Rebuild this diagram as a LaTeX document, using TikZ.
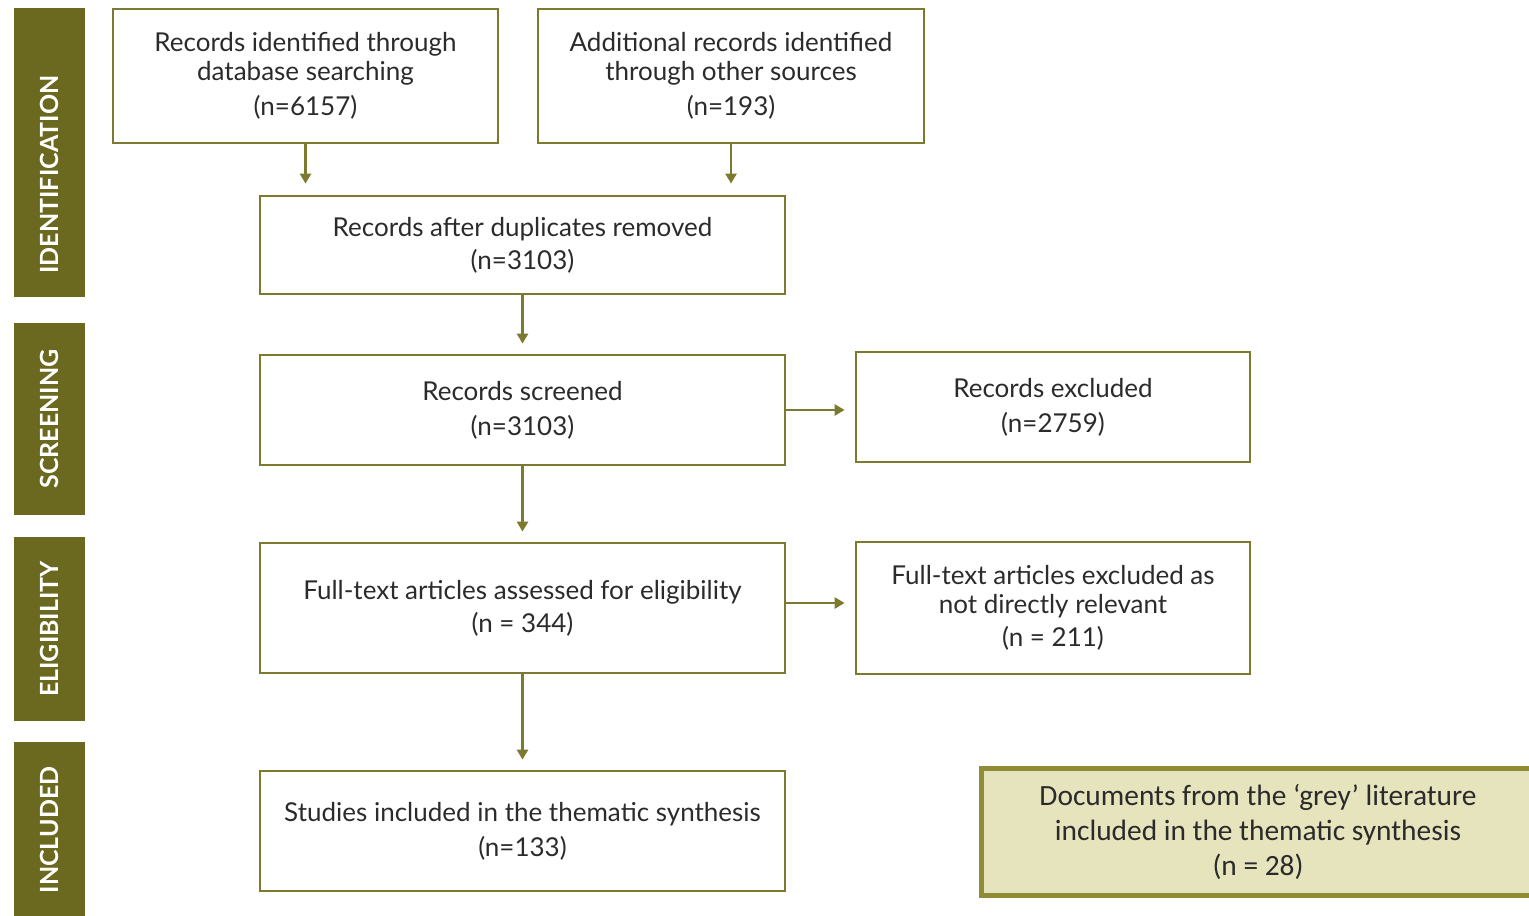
\documentclass[tikz,border=0pt]{standalone}
\usepackage{fontspec}
\setmainfont{Lato}
\newfontfamily\greyfont{Carlito}
\usetikzlibrary{arrows.meta,positioning}

\definecolor{olivebar}{HTML}{6B691F}
\definecolor{oliveline}{HTML}{7B7A2E}
\definecolor{greyfill}{HTML}{E6E4BD}
\definecolor{greyline}{HTML}{8F8C35}
\definecolor{boxtext}{HTML}{2B2B2B}

\begin{document}
\begin{tikzpicture}[x=0.5pt,y=-0.5pt,
	box/.style={draw=oliveline,line width=1.4pt,align=center,inner sep=0pt,text=boxtext,
		font=\fontsize{13}{14.5}\selectfont},
	wide/.style={box,minimum width=262.5pt},
	side/.style={box,minimum width=197pt},
	stage/.style={fill=olivebar,text=white,rotate=90,inner sep=0pt,minimum height=35.5pt,
		font=\fontsize{12.5}{14}\selectfont\bfseries},
	grey/.style={draw=greyline,fill=greyfill,line width=2.5pt,align=center,inner sep=0pt,
		text=boxtext,font=\greyfont\fontsize{14.7}{17.5}\selectfont},
	link/.style={-{Triangle[width=5.5pt,length=5pt]},draw=oliveline,line width=1.4pt}]
	\useasboundingbox (0,0) rectangle (1529,915);

	% phases
	\node[stage,minimum width=144.5pt] (Ident) at (49.5,152.5) {IDENTIFICATION\kern22pt};
	\node[stage,minimum width=96pt] (Screen) at (49.5,419) {SCREENING};
	\node[stage,minimum width=92pt] (Elig) at (49.5,629) {ELIGIBILITY};
	\node[stage,minimum width=88pt] (Incl) at (49.5,830) {INCLUDED};

	% boxes
	\node[box,minimum width=192.5pt,minimum height=67pt] (Database) at (305.5,76)
		{Records identified through\\database searching\\[3pt](n=6157)};
	\node[box,minimum width=193pt,minimum height=67pt] (Other) at (731,76)
		{Additional records identified\\through other sources\\[3pt](n=193)};
	\node[wide,minimum height=49pt] (Dupl) at (522.5,245)
		{Records after duplicates removed\\[2pt](n=3103)};
	\node[wide,minimum height=55pt] (Screened) at (522.5,410)
		{Records screened\\[3pt](n=3103)};
	\node[side,minimum height=55pt] (Excl) at (1053,407)
		{Records excluded\\[3pt](n=2759)};
	\node[wide,minimum height=65pt] (Full) at (522.5,608)
		{Full-text articles assessed for eligibility\\[2pt](n = 344)};
	\node[side,minimum height=66pt] (FullExcl) at (1053,608)
		{Full-text articles excluded as\\not directly relevant\\[2pt](n = 211)};
	\node[wide,minimum height=60pt] (Studies) at (522.5,831)
		{Studies included in the thematic synthesis\\[3pt](n=133)};
	\node[grey,minimum width=277pt,minimum height=63.5pt] (Grey) at (1258,831.5)
		{Documents from the ‘grey’ literature\\included in the thematic synthesis\\(n = 28)};

	\draw[link,shorten >=5.5pt] (Database.south) -- (Database.south |- Dupl.north);
	\draw[link,shorten >=5.5pt] (Other.south) -- (Other.south |- Dupl.north);
	\draw[link,shorten >=5pt] (Dupl) -- (Screened);
	\draw[link,shorten >=5pt] (Screened.east) -- (Screened.east -| Excl.west);
	\draw[link,shorten >=5pt] (Screened) -- (Full);
	\draw[link,shorten >=5pt] ([yshift=2.5pt]Full.east) -- ([yshift=2.5pt]Full.east -| FullExcl.west);
	\draw[link,shorten >=5pt] (Full) -- (Studies);
\end{tikzpicture}
\end{document}
